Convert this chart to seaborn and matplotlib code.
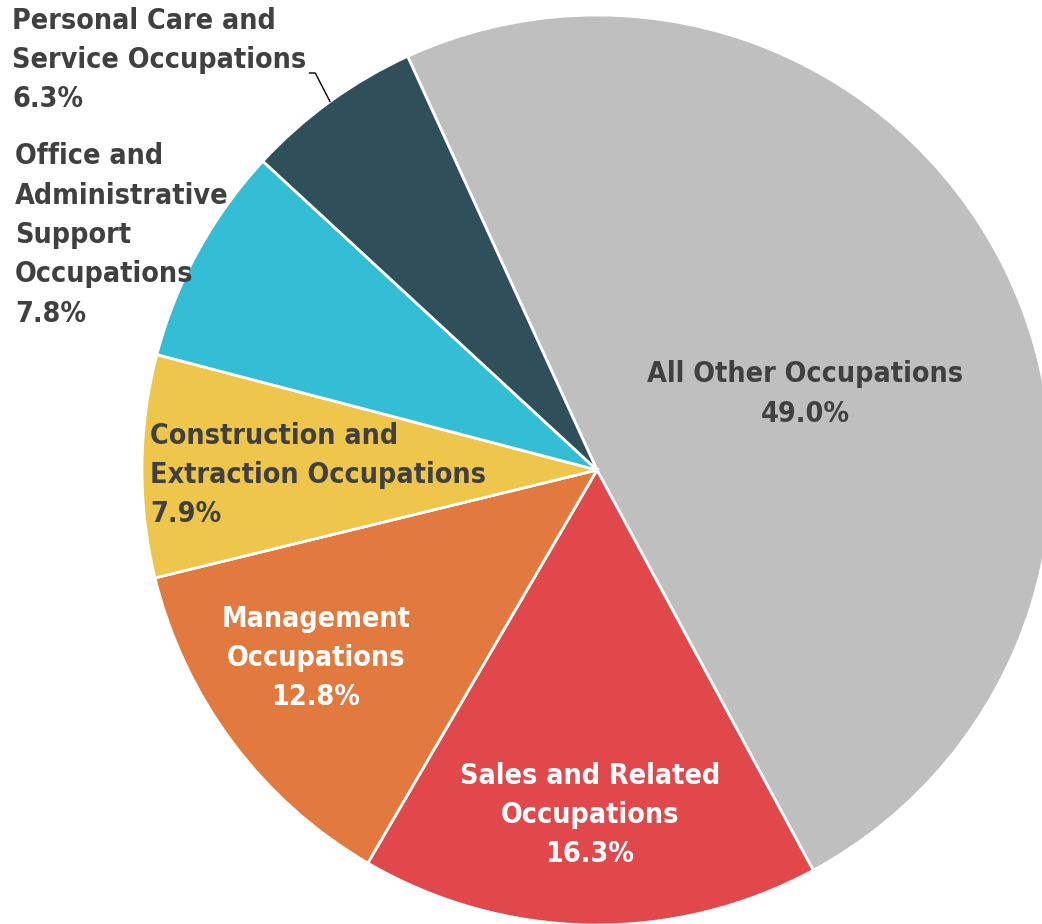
import matplotlib
matplotlib.use("Agg")
import matplotlib.pyplot as plt
import numpy as np
import seaborn as sns

labels = [
    "All Other Occupations",
    "Sales and Related\nOccupations",
    "Management\nOccupations",
    "Construction and\nExtraction Occupations",
    "Office and\nAdministrative\nSupport\nOccupations",
    "Personal Care and\nService Occupations",
]
shares = [49.0, 16.3, 12.8, 7.9, 7.8, 6.3]
colors = ["#BFBFBF", "#E0484B", "#E2793F", "#EEC64B", "#33BED5", "#2F4F5B"]

sns.set_theme(style="white")
plt.rcParams["font.family"] = ["DejaVu Sans"]
plt.rcParams["font.stretch"] = "condensed"

W, H = 1042, 924
fig = plt.figure(figsize=(W / 100, H / 100), dpi=100)
ax = fig.add_axes([0, 0, 1, 1])

wedges, _ = ax.pie(
    shares,
    colors=sns.color_palette(colors),
    startangle=114.6,
    counterclock=False,
    radius=1.0,
    wedgeprops={"edgecolor": "white", "linewidth": 2},
)

# pie centre and radius in pixels
cx, cy, r = 597, 470, 455
ax.set_xlim(-cx / r, (W - cx) / r)
ax.set_ylim(-(H - cy) / r, cy / r)
ax.set_aspect("equal")
ax.axis("off")


def px(x, y):
    return (x - cx) / r, (cy - y) / r


dark = "#404040"
# (x px, y px of block centre, align, colour)
placements = [
    (805, 394, "center", dark),
    (590, 815, "center", "white"),
    (316, 658, "center", "white"),
    (150, 475, "left", dark),
    (15, 235, "left", dark),
    (12, 60, "left", dark),
]

texts = []
for lab, val, (x, y, ha, col) in zip(labels, shares, placements):
    tx, ty = px(x, y)
    t = ax.text(
        tx,
        ty,
        f"{lab}\n{val:.1f}%",
        ha=ha,
        va="center",
        multialignment=ha,
        color=col,
        fontsize=20.5,
        fontweight="bold",
        fontstretch="condensed",
        linespacing=1.52,
    )
    texts.append(t)

# leader line for the smallest slice, starting just right of its label
fig.canvas.draw()
bb = texts[-1].get_window_extent()
lx = bb.x1 + 3
w = wedges[-1]
mid = np.deg2rad((w.theta1 + w.theta2) / 2)
ex, ey = np.cos(mid), np.sin(mid)
elbow = px(lx + 6, 73)
start = px(lx, 73)
ax.plot([start[0], elbow[0], ex], [start[1], elbow[1], ey], color="black", lw=1)

plt.savefig("out.png", dpi=100)
